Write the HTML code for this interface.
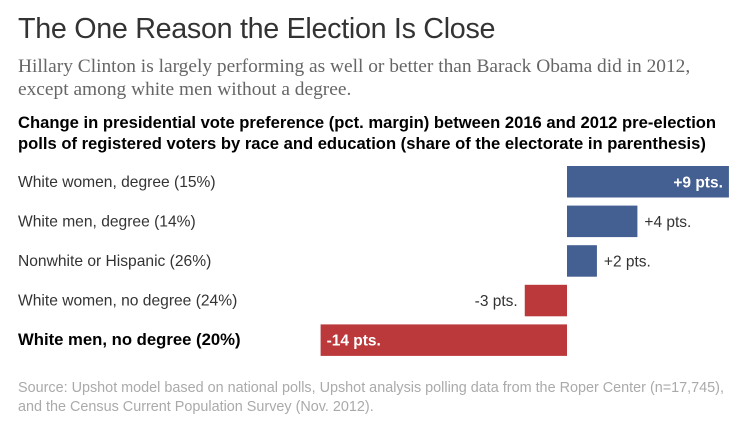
<!DOCTYPE html>
<html><head><meta charset="utf-8"><style>
body{margin:0;width:749px;height:429px;background:#fff;overflow:hidden;position:relative;font-family:"Liberation Sans",sans-serif}
.t{position:absolute;left:18px;top:13px;font-size:28.7px;color:#333;letter-spacing:-0.3px;white-space:nowrap}
.s{position:absolute;left:18px;top:55px;font-family:"Liberation Serif",serif;font-size:19.4px;line-height:23px;color:#666;white-space:nowrap}
.h{position:absolute;left:18px;top:112px;font-size:16.6px;font-weight:bold;line-height:21px;color:#000;white-space:nowrap}
.src{position:absolute;left:18px;top:379px;font-size:14.4px;line-height:19px;color:#aaa;white-space:nowrap}
</style></head><body>
<div class="t">The One Reason the Election Is Close</div>
<div class="s">Hillary Clinton is largely performing as well or better than Barack Obama did in 2012,<br>except among white men without a degree.</div>
<div class="h">Change in presidential vote preference (pct. margin) between 2016 and 2012 pre-election<br>polls of registered voters by race and education (share of the electorate in parenthesis)</div>
<svg id="c" width="749" height="429" style="position:absolute;left:0;top:0"></svg>
<div class="src">Source: Upshot model based on national polls, Upshot analysis polling data from the Roper Center (n=17,745),<br>and the Census Current Population Survey (Nov. 2012).</div>
<script>
const categories=["White women, degree (15%)","White men, degree (14%)","Nonwhite or Hispanic (26%)","White women, no degree (24%)","White men, no degree (20%)"];
const values=[9.2,4.0,1.7,-2.4,-14.0];
const valueLabels=["+9 pts.","+4 pts.","+2 pts.","-3 pts.","-14 pts."];
const NS="http://www.w3.org/2000/svg";
const svg=document.getElementById('c');
const x0=567,scale=17.6;
function xs(v){return x0+v*scale;}
function yRow(i){return 166+i*39.6;}
const bh=31.5;
categories.forEach((cat,i)=>{
  const v=values[i],y=yRow(i),last=i===categories.length-1;
  const lab=document.createElementNS(NS,'text');
  
  
  lab.setAttribute('x',18);lab.setAttribute('y',y+bh/2+5);
  lab.setAttribute('font-size',last?16.7:15.6);
  lab.setAttribute('font-weight',last?'bold':'normal');
  lab.setAttribute('fill',last?'#000':'#333');
  lab.textContent=cat;svg.appendChild(lab);
  const r=document.createElementNS(NS,'rect');
  
  
  const xa=Math.min(xs(0),xs(v)),w=Math.abs(xs(v)-xs(0));
  r.setAttribute('x',xa);r.setAttribute('y',y);r.setAttribute('width',w);r.setAttribute('height',bh);
  r.setAttribute('fill',v>=0?'#445f92':'#bb393b');svg.appendChild(r);
  const t=document.createElementNS(NS,'text');
  
  
  t.setAttribute('y',y+bh/2+5.5);t.setAttribute('font-size',15.5);
  const inside=w>120;
  if(inside){
    t.setAttribute('fill','#fff');t.setAttribute('font-weight','bold');
    if(v>=0){t.setAttribute('x',xs(v)-6);t.setAttribute('text-anchor','end');}
    else{t.setAttribute('x',xs(v)+6);}
  }else{
    t.setAttribute('fill','#333');
    if(v>=0){t.setAttribute('x',xs(v)+7);}
    else{t.setAttribute('x',xs(v)-7);t.setAttribute('text-anchor','end');}
  }
  t.textContent=valueLabels[i];svg.appendChild(t);
});
</script>
</body></html>
